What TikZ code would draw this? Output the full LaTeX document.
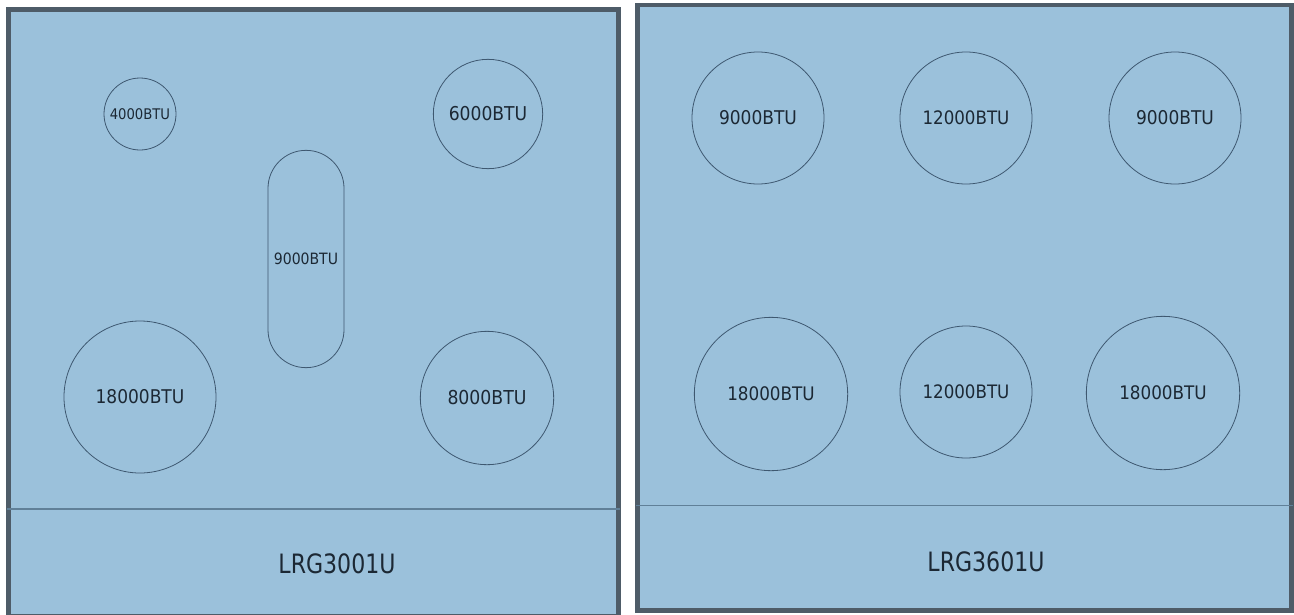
\documentclass[tikz,border=0pt]{standalone}
\usepackage{fontspec}
\setmainfont{DejaVu Sans Condensed}
\newfontfamily\titlefont[FakeStretch=0.92]{DejaVu Sans Condensed}
\definecolor{panelfill}{RGB}{155,193,219}
\definecolor{frameclr}{RGB}{78,92,104}
\definecolor{ringclr}{RGB}{62,88,112}
\definecolor{divclr}{RGB}{96,128,152}
\definecolor{txtclr}{RGB}{28,40,52}
\tikzset{
  panel/.style={draw=frameclr, line width=3.4pt, fill=panelfill},
  divider/.style={draw=divclr, line width=1.1pt},
  burner/.style={circle, draw=ringclr, line width=0.6pt, inner sep=0pt, text=txtclr, minimum size=#1},
  oblong/.style={draw=ringclr, line width=0.6pt, text=txtclr, rounded corners=28.5pt, minimum width=57pt, minimum height=163pt, inner sep=0pt},
  model/.style={text=txtclr, font=\titlefont\fontsize{20}{24}\selectfont}
}
\begin{document}
\begin{tikzpicture}[x=0.75pt, y=-0.75pt]
\useasboundingbox (0,0) rectangle (1294,614);
\fill[white] (0,0) rectangle (1294,614);
% left panel
\draw[panel] (8.5,9.5) rectangle (618.5,616);
\coordinate (dl1) at (7,509);
\coordinate (dl2) at (620,509);
\draw[divider] (dl1) -- (dl2);
% right panel
\draw[panel] (637.5,5) rectangle (1291.5,610.5);
\coordinate (dr1) at (636,505.5);
\coordinate (dr2) at (1293,505.5);
\draw[divider] (dr1) -- (dr2);
% left burners
\node[burner=54pt, font=\fontsize{11}{13}\selectfont] (b4000) at (140,114) {4000BTU};
\node[burner=82pt, font=\fontsize{14.3}{16}\selectfont] (b6000) at (488,114) {6000BTU};
\node[oblong, font=\fontsize{11.7}{14}\selectfont] (b9000) at (306,259) {9000BTU};
\node[burner=114pt, font=\fontsize{14.2}{16}\selectfont] (b18000) at (140,397) {18000BTU};
\node[burner=100pt, font=\fontsize{14.4}{16}\selectfont] (b8000) at (487,398) {8000BTU};
\node[model] (m1) at (337,564) {LRG3001U};
% right burners
\node[burner=99pt, font=\fontsize{14.2}{16}\selectfont] (r1) at (758,118) {9000BTU};
\node[burner=99pt, font=\fontsize{13.9}{16}\selectfont] (r2) at (966,118) {12000BTU};
\node[burner=99pt, font=\fontsize{14.2}{16}\selectfont] (r3) at (1175,118) {9000BTU};
\node[burner=115pt, font=\fontsize{14}{16}\selectfont] (r4) at (771,394) {18000BTU};
\node[burner=99pt, font=\fontsize{13.9}{16}\selectfont] (r5) at (966,392) {12000BTU};
\node[burner=115pt, font=\fontsize{14}{16}\selectfont] (r6) at (1163,393) {18000BTU};
\node[model] (m2) at (986,562) {LRG3601U};
\end{tikzpicture}
\end{document}
